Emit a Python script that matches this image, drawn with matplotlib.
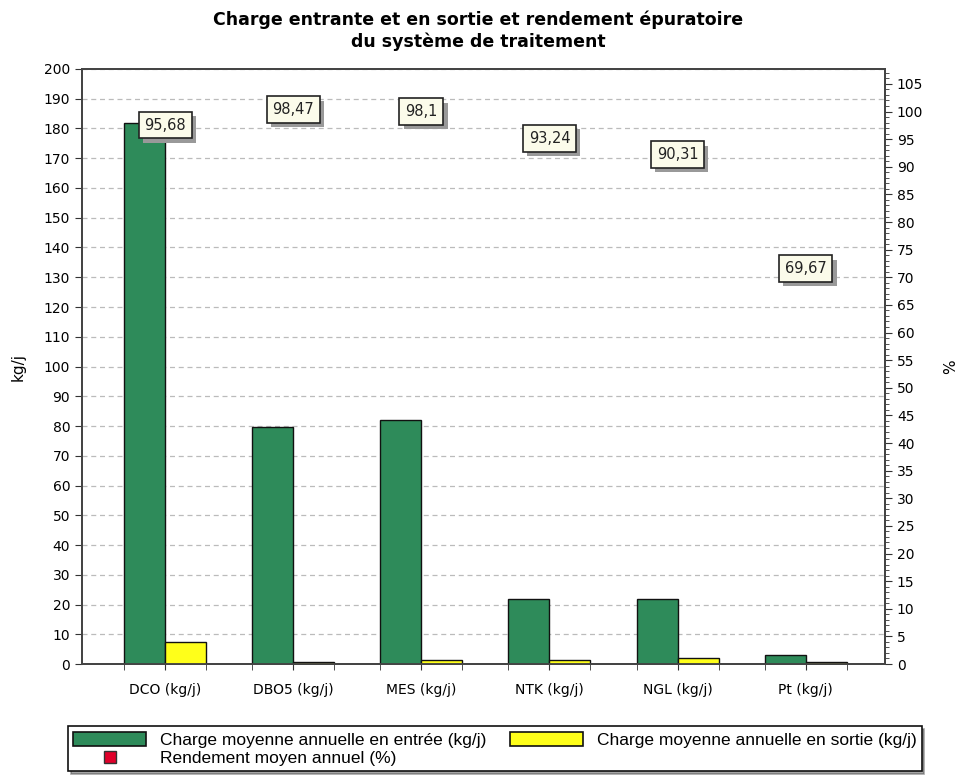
import numpy as np
import matplotlib

matplotlib.use("Agg")

import matplotlib.pyplot as plt
import matplotlib.patheffects as pe
from matplotlib.lines import Line2D
from matplotlib.patches import Patch
from matplotlib.ticker import MultipleLocator

# values
categories = ["DCO (kg/j)", "DBO5 (kg/j)", "MES (kg/j)", "NTK (kg/j)", "NGL (kg/j)", "Pt (kg/j)"]
charge_in = [182.0, 79.5, 82.0, 22.0, 22.0, 3.0]
charge_out = [7.5, 0.8, 1.5, 1.4, 2.0, 0.7]
rendement = [95.68, 98.47, 98.1, 93.24, 90.31, 69.67]
rendement_labels = ["95,68", "98,47", "98,1", "93,24", "90,31", "69,67"]

GREEN = "#2E8B5A"
YELLOW = "#FFFF1A"
RED = "#E0002A"

fig = plt.figure(figsize=(9.57, 7.76), dpi=100)
ax = fig.add_axes([0.0857, 0.1443, 0.8391, 0.7668])

x = np.arange(len(categories))
w = 0.32

ax.bar(x - w / 2, charge_in, w, color=GREEN, edgecolor="#111111", linewidth=1.0, zorder=3)
ax.bar(x + w / 2, charge_out, w, color=YELLOW, edgecolor="#111111", linewidth=1.0, zorder=3)

ax.set_xlim(-0.65, 5.62)
ax.set_ylim(0, 200)
ax.yaxis.set_major_locator(MultipleLocator(10))
ax.set_ylabel("kg/j", fontsize=11, labelpad=13)
ax.grid(axis="y", color="#BBBBBB", linestyle=(0, (4, 3)), linewidth=0.9, zorder=0)

# ticks at every bar edge, labels at group centres
edges = np.concatenate([x - w, x, x + w])
ax.set_xticks(edges, minor=True)
ax.set_xticks(x)
ax.set_xticklabels(categories, fontsize=10)
ax.tick_params(axis="x", which="major", length=4, pad=10, color="#333333")
ax.tick_params(axis="x", which="minor", length=4, color="#333333")
ax.tick_params(axis="y", labelsize=10, length=5, color="#333333")

for s in ax.spines.values():
    s.set_color("#444444")
    s.set_linewidth(1.3)

ax2 = ax.twinx()
ax2.set_ylim(0, 107.7)
ax2.yaxis.set_major_locator(MultipleLocator(5))
ax2.yaxis.set_minor_locator(MultipleLocator(1))
ax2.tick_params(axis="y", which="major", labelsize=10, length=5, color="#333333")
ax2.tick_params(axis="y", which="minor", length=3, color="#333333")
ax2.set_ylabel("%", fontsize=11, labelpad=14)
for s in ax2.spines.values():
    s.set_color("#444444")
    s.set_linewidth(1.3)

ax2.plot(x, rendement, linestyle="none", marker="_", markersize=14,
         markeredgewidth=2.2, color="#333333", zorder=4)

for xi, val, lab in zip(x, rendement, rendement_labels):
    t = ax2.annotate(lab, (xi, val), xytext=(0, 2), textcoords="offset points",
                     ha="center", va="bottom", fontsize=10.5, color="#222222",
                     bbox=dict(boxstyle="square,pad=0.4", facecolor="#FBFBEA",
                               edgecolor="#222222", linewidth=1.2), zorder=6)
    t.get_bbox_patch().set_path_effects([
        pe.SimplePatchShadow(offset=(3, -3), shadow_rgbFace="#999999", alpha=1.0),
        pe.Normal(),
    ])

fig.text(0.5, 0.987, "Charge entrante et en sortie et rendement épuratoire\ndu système de traitement",
         ha="center", va="top", fontsize=12.5, fontweight="bold", linespacing=1.3)

handles = [
    Patch(facecolor=GREEN, edgecolor="#111111", linewidth=1.2),
    Line2D([], [], linestyle="none", marker="s", markersize=8,
           markerfacecolor=RED, markeredgecolor="#333333"),
    Patch(facecolor=YELLOW, edgecolor="#111111", linewidth=1.2),
]
labels = [
    "Charge moyenne annuelle en entrée (kg/j)",
    "Rendement moyen annuel (%)",
    "Charge moyenne annuelle en sortie (kg/j)",
]
leg = fig.legend(handles, labels, ncol=2, loc="lower left",
                 bbox_to_anchor=(0.071, 0.006, 0.892, 0.07), mode="expand",
                 fancybox=False, shadow=True, edgecolor="#111111",
                 framealpha=1, handlelength=4.2, handleheight=0.85,
                 handletextpad=0.8, columnspacing=0.8, labelspacing=0.15,
                 borderpad=0.3, borderaxespad=0.0,
                 prop={"family": "Liberation Sans", "size": 12.5})
leg.get_frame().set_linewidth(1.2)

fig.savefig("out.png", dpi=100, facecolor="white")
